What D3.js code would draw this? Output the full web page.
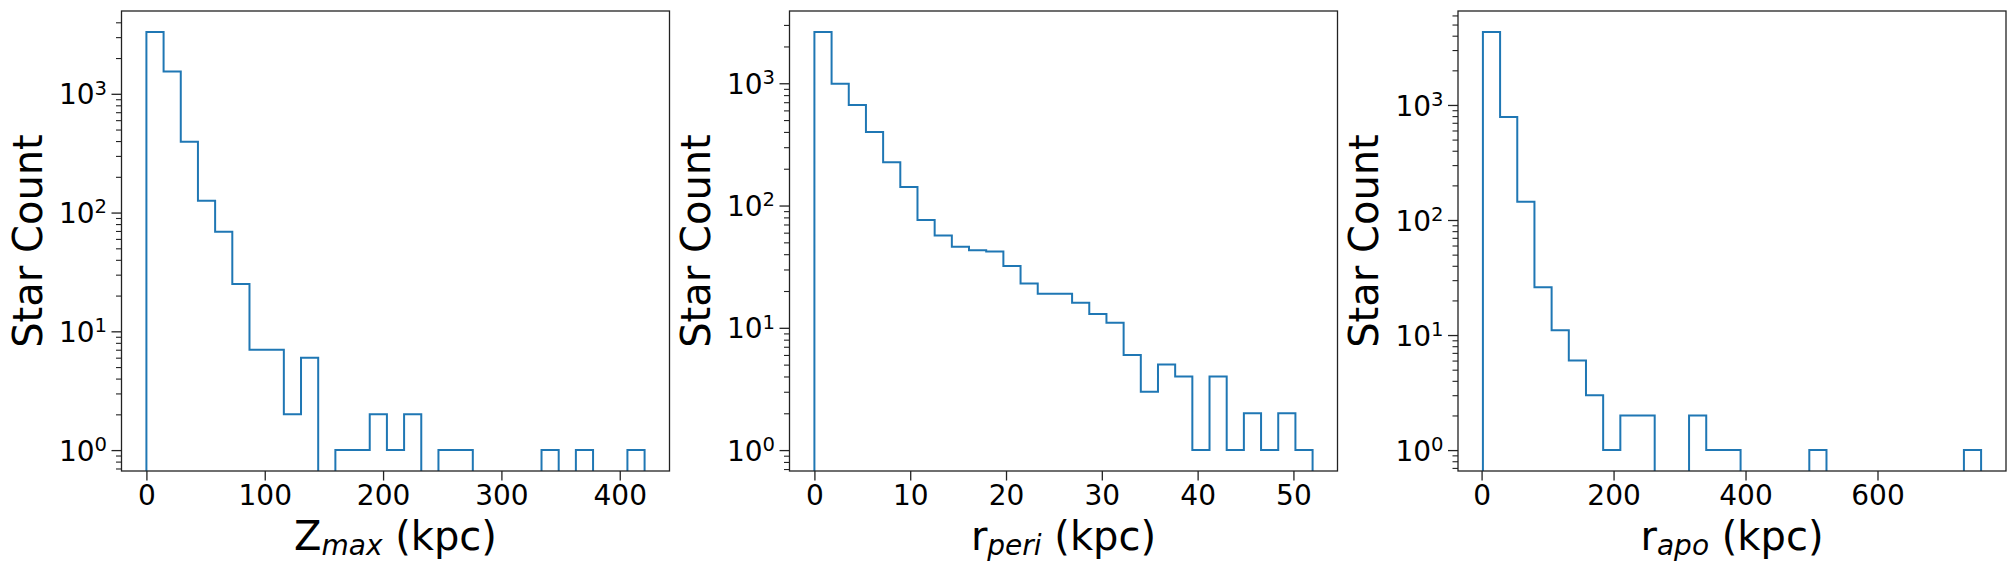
<!DOCTYPE html>
<html>
<head>
<meta charset="utf-8">
<script src="https://cdnjs.cloudflare.com/ajax/libs/d3/7.8.5/d3.min.js"></script>
<style>
  body { margin: 0; background: #fff; }
  svg { display: block; }
</style>
</head>
<body>
<div id="display"></div>
<script>
// histogram counts, 29 bins each
var zmaxCounts  = [3320, 1540, 394, 126, 69, 25, 7, 7, 2, 6, 0, 1, 1, 2, 1, 2, 0, 1, 1, 0, 0, 0, 0, 1, 0, 1, 0, 0, 1];
var rperiCounts = [2630, 993, 664, 399, 226, 142, 76, 57, 46, 43, 42, 32, 23, 19, 19, 16, 13, 11, 6, 3, 5, 4, 1, 4, 1, 2, 1, 2, 1];
var rapoCounts  = [4315, 787, 144, 26, 11, 6, 3, 1, 2, 2, 0, 0, 2, 1, 1, 0, 0, 0, 0, 1, 0, 0, 0, 0, 0, 0, 0, 0, 1];

// first and last bin edge (kpc)
var zmaxRange  = [0, 421];
var rperiRange = [0, 52.0];
var rapoRange  = [2, 757];

var zmaxTicks  = [0, 100, 200, 300, 400];
var rperiTicks = [0, 10, 20, 30, 40, 50];
var rapoTicks  = [0, 200, 400, 600];
var yMajorTicks = [1, 10, 100, 1000];

var yLabel = "Star Count";
var xLabels = [
	{main: "Z", sub: "max", unit: " (kpc)"},
	{main: "r", sub: "peri", unit: " (kpc)"},
	{main: "r", sub: "apo", unit: " (kpc)"}
];

var panels = [
	{counts: zmaxCounts, range: zmaxRange, ticks: zmaxTicks, label: xLabels[0]},
	{counts: rperiCounts, range: rperiRange, ticks: rperiTicks, label: xLabels[1]},
	{counts: rapoCounts, range: rapoRange, ticks: rapoTicks, label: xLabels[2]}
];

var W = 2016, H = 576;
var panelLeft = [121.5, 789.5, 1458];
var panelTop = 11;
var plotW = 548, plotH = 460;
var lineColor = "#1f77b4";
var axisColor = "#222";
var font = "DejaVu Sans, sans-serif";

var svg = d3.select("#display").append("svg")
	.attr("width", W)
	.attr("height", H)
	.style("font-family", font);

svg.append("rect").attr("width", W).attr("height", H).attr("fill", "#fff");

function DrawPanel(p, i)
{
	var n = p.counts.length;
	var lo = p.range[0], hi = p.range[1];
	var edges = d3.range(n + 1).map(function(k) { return lo + k * (hi - lo) / n; });

	// matplotlib style 5% margins
	var span = hi - lo;
	var x = d3.scaleLinear().domain([lo - 0.05 * span, hi + 0.05 * span]).range([0, plotW]);
	var L = Math.log10(d3.max(p.counts));
	var y = d3.scaleLog().domain([Math.pow(10, -0.05 * L), Math.pow(10, 1.05 * L)]).range([plotH, 0]);

	var g = svg.append("g")
		.attr("transform", "translate(" + panelLeft[i] + "," + panelTop + ")");

	g.append("clipPath").attr("id", "clip" + i)
		.append("rect").attr("width", plotW).attr("height", plotH);

	function yPos(c) { return c > 0 ? y(c) : plotH + 4; }

	// step outline
	var pts = [[x(edges[0]), plotH + 4]];
	p.counts.forEach(function(c, k)
	{
		pts.push([x(edges[k]), yPos(c)]);
		pts.push([x(edges[k + 1]), yPos(c)]);
	});
	pts.push([x(edges[n]), plotH + 4]);

	g.append("path")
		.attr("clip-path", "url(#clip" + i + ")")
		.attr("d", d3.line()(pts))
		.attr("fill", "none")
		.attr("stroke", lineColor)
		.attr("stroke-width", 2)
		.attr("stroke-linejoin", "miter");

	// x axis
	var xa = g.append("g")
		.attr("transform", "translate(0," + plotH + ")")
		.call(d3.axisBottom(x).tickValues(p.ticks).tickSize(9.5).tickPadding(5).tickFormat(d3.format("d")));
	xa.select(".domain").remove();
	xa.selectAll("line").attr("stroke", axisColor).attr("stroke-width", 1.3);
	xa.selectAll("text").attr("fill", "#000").style("font-size", "28px").style("font-family", font);

	// y minor ticks
	var dom = y.domain();
	var minor = [];
	for (var e = Math.floor(Math.log10(dom[0])); e <= Math.ceil(Math.log10(dom[1])); e++)
	{
		for (var m = 2; m <= 9; m++)
		{
			var v = m * Math.pow(10, e);
			if (v >= dom[0] && v <= dom[1]) minor.push(v);
		}
	}
	var ym = g.append("g")
		.call(d3.axisLeft(y).tickValues(minor).tickSize(5.5).tickFormat(""));
	ym.select(".domain").remove();
	ym.selectAll("line").attr("stroke", axisColor).attr("stroke-width", 1.1);

	// y major ticks with 10^k labels
	var ya = g.append("g")
		.call(d3.axisLeft(y).tickValues(yMajorTicks).tickSize(10).tickPadding(4.5).tickFormat(""));
	ya.select(".domain").remove();
	ya.selectAll("line").attr("stroke", axisColor).attr("stroke-width", 1.3);
	ya.selectAll("text")
		.attr("fill", "#000")
		.attr("dy", "0.36em")
		.style("font-size", "28px")
		.style("font-family", font)
		.each(function(d)
		{
			var t = d3.select(this);
			t.append("tspan").text("10");
			t.append("tspan")
				.attr("dy", -9.7)
				.style("font-size", "19.6px")
				.text(Math.round(Math.log10(d)));
		});

	// frame
	g.append("rect")
		.attr("width", plotW)
		.attr("height", plotH)
		.attr("fill", "none")
		.attr("stroke", axisColor)
		.attr("stroke-width", 1.3);

	// axis labels
	var xl = g.append("text")
		.attr("x", plotW / 2)
		.attr("y", plotH + 79)
		.attr("text-anchor", "middle")
		.style("font-size", "40px");
	xl.append("tspan").text(p.label.main);
	xl.append("tspan")
		.attr("dy", 5)
		.style("font-size", "28px")
		.style("font-style", "italic")
		.text(p.label.sub);
	xl.append("tspan")
		.attr("dy", -5)
		.text(p.label.unit);

	g.append("text")
		.attr("transform", "translate(-80," + (plotH / 2) + ") rotate(-90)")
		.attr("text-anchor", "middle")
		.style("font-size", "40px")
		.text(yLabel);
}

panels.forEach(DrawPanel);
</script>
</body>
</html>
